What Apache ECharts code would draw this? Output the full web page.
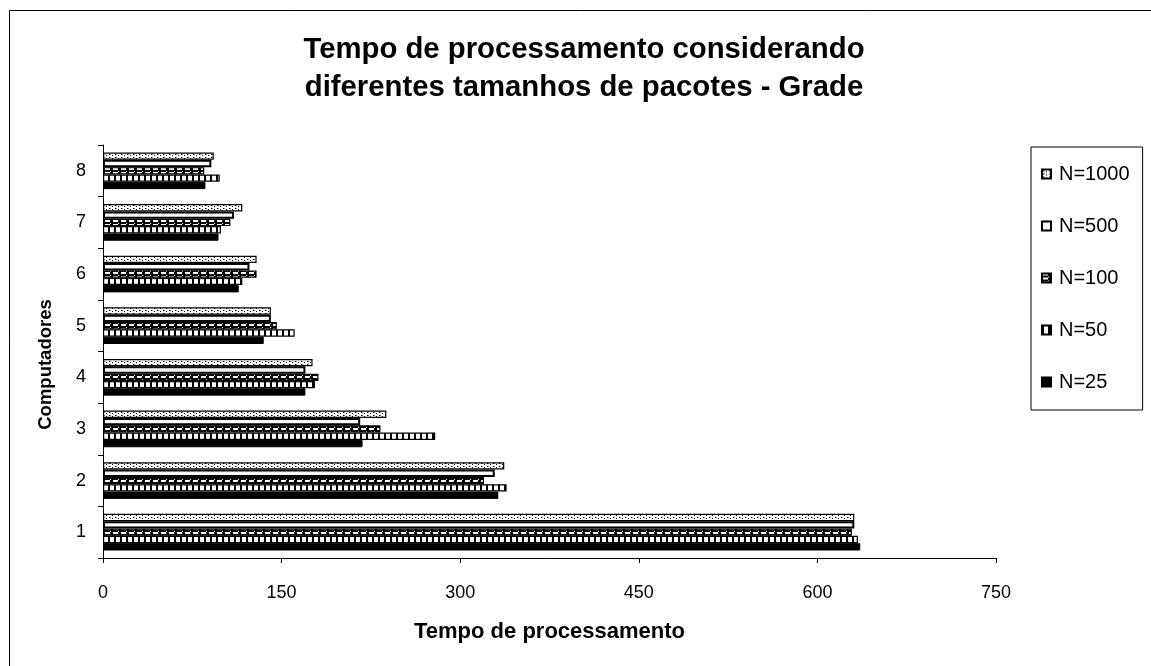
<!DOCTYPE html>
<html>
<head>
<meta charset="utf-8">
<script src="https://cdn.jsdelivr.net/npm/echarts@6/dist/echarts.min.js"></script>
<style>
  html, body { margin: 0; padding: 0; background: #fff; }
  #main { width: 1151px; height: 666px; }
</style>
</head>
<body>
<div id="main"></div>
<script>
// computadores (bottom to top)
var categories = ['1', '2', '3', '4', '5', '6', '7', '8'];
var xTicks = [0, 150, 300, 450, 600, 750];

var n1000 = [631, 337, 238, 176, 141, 129, 117, 93];
var n500 = [631, 329, 216, 170, 141, 123, 110, 91];
var n100 = [629, 320, 233, 181, 146, 129, 107, 85];
var n50 = [634, 339, 279, 178, 161, 117, 99, 98];
var n25 = [636, 332, 218, 170, 135, 114, 97, 86];

var titleText = 'Tempo de processamento considerando\ndiferentes tamanhos de pacotes - Grade';

function pattern(w, h, draw) {
  var c = document.createElement('canvas');
  c.width = w;
  c.height = h;
  var ctx = c.getContext('2d');
  draw(ctx);
  return { image: c, repeat: 'repeat' };
}

// fill patterns like the old excel chart
var dots = pattern(6, 3, function (ctx) {
  ctx.fillStyle = '#fff';
  ctx.fillRect(0, 0, 6, 3);
  ctx.fillStyle = '#000';
  ctx.fillRect(1, 1, 1, 1);
  ctx.fillRect(4, 2, 1, 1);
  ctx.fillStyle = '#888';
  ctx.fillRect(2, 1, 1, 1);
});
var bumps = pattern(8, 4, function (ctx) {
  ctx.fillStyle = '#000';
  ctx.fillRect(0, 0, 8, 4);
  ctx.fillStyle = '#fff';
  ctx.fillRect(1, 0, 5, 2);
  ctx.fillRect(6, 3, 1, 1);
});
var squares = pattern(6, 4, function (ctx) {
  ctx.fillStyle = '#000';
  ctx.fillRect(0, 0, 6, 4);
  ctx.fillStyle = '#fff';
  ctx.fillRect(2, 0, 4, 4);
});

var font = 'Liberation Sans';

function bar(name, data, fill, bw) {
  return {
    name: name,
    type: 'bar',
    data: data,
    barGap: '0%',
    barCategoryGap: '29%',
    itemStyle: { color: fill, borderColor: '#000', borderWidth: bw }
  };
}

var chart = echarts.init(document.getElementById('main'));
var option = {
  animation: false,
  backgroundColor: '#fff',
  textStyle: { fontFamily: font, color: '#000' },
  graphic: [{
    type: 'rect',
    shape: { x: 9.5, y: 10.5, width: 1300, height: 800 },
    style: { fill: 'none', stroke: '#000', lineWidth: 1 },
    silent: true
  }, {
    type: 'text',
    x: 584,
    y: 31,
    silent: true,
    style: {
      text: titleText,
      fontFamily: font,
      fontSize: 29.3,
      fontWeight: 'bold',
      lineHeight: 38,
      align: 'center',
      verticalAlign: 'top',
      fill: '#000'
    }
  }],
  legend: {
    orient: 'vertical',
    left: 1031,
    top: 147,
    data: ['N=1000', 'N=500', 'N=100', 'N=50', 'N=25'],
    icon: 'rect',
    itemWidth: 9,
    itemHeight: 9,
    itemGap: 32,
    padding: [17, 13, 18, 10],
    borderColor: '#000',
    borderWidth: 1,
    textStyle: { fontFamily: font, fontSize: 20, color: '#000', padding: [0, 0, 0, 3] }
  },
  grid: { left: 103, right: 155, top: 145, bottom: 108 },
  xAxis: {
    type: 'value',
    min: xTicks[0],
    max: xTicks[xTicks.length - 1],
    interval: xTicks[1] - xTicks[0],
    name: 'Tempo de processamento',
    nameLocation: 'middle',
    nameGap: 63,
    nameTextStyle: { fontFamily: font, fontSize: 22, fontWeight: 'bold', color: '#000' },
    axisLine: { show: true, lineStyle: { color: '#000', width: 1 } },
    axisTick: { show: true, length: 5, lineStyle: { color: '#000' } },
    axisLabel: { fontFamily: font, fontSize: 18, color: '#000', margin: 26 },
    splitLine: { show: false }
  },
  yAxis: {
    type: 'category',
    data: categories,
    name: 'Computadores',
    nameLocation: 'middle',
    nameGap: 48,
    nameTextStyle: { fontFamily: font, fontSize: 18.5, fontWeight: 'bold', color: '#000', padding: [0, 26, 0, 0] },
    axisLine: { show: true, lineStyle: { color: '#000', width: 1 } },
    axisTick: { show: true, length: 5, lineStyle: { color: '#000' } },
    axisLabel: { fontFamily: font, fontSize: 18, color: '#000', margin: 17 },
    splitLine: { show: false }
  },
  series: [
    bar('N=1000', n1000, dots, 1.2),
    bar('N=500', n500, '#fff', 2),
    bar('N=100', n100, bumps, 1.2),
    bar('N=50', n50, squares, 1.2),
    bar('N=25', n25, '#000', 1)
  ]
};
chart.setOption(option);
</script>
</body>
</html>
